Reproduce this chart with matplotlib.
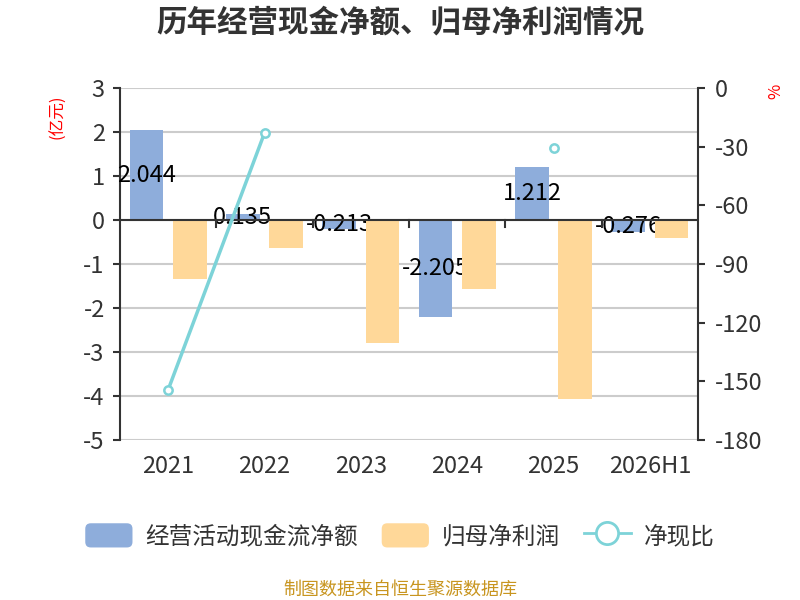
import matplotlib
matplotlib.use("Agg")
import matplotlib.pyplot as plt
import numpy as np
from matplotlib.patches import Patch, FancyBboxPatch
from matplotlib.lines import Line2D
from matplotlib.legend_handler import HandlerPatch

plt.rcParams['font.family'] = ['Noto Sans CJK SC', 'DejaVu Sans']
plt.rcParams['axes.unicode_minus'] = False

## datos ##
years = ["2021", "2022", "2023", "2024", "2025", "2026H1"]
cash_flow = [2.044, 0.135, -0.213, -2.205, 1.212, -0.276]
net_profit = [-1.35, -0.63, -2.80, -1.57, -4.07, -0.41]
ratio = [-154.3, -23.0, np.nan, np.nan, -30.5, np.nan]

labels_y1 = ["3", "2", "1", "0", "-1", "-2", "-3", "-4", "-5"]
ticks_y1 = [3, 2, 1, 0, -1, -2, -3, -4, -5]
ticks_y2 = [0, -30, -60, -90, -120, -150, -180]

c_blue = "#8eaddb"
c_orange = "#ffd899"
c_line = "#7dd3d8"
c_text = "#333333"
fs = 17


class RoundHandler(HandlerPatch):
	def create_artists(self, legend, orig_handle, xdescent, ydescent, width, height, fontsize, trans):
		p = FancyBboxPatch((-xdescent, -ydescent), width, height,
			boxstyle="round,pad=0,rounding_size=4",
			fc=orig_handle.get_facecolor(), ec="none", transform=trans)
		return [p]


fig = plt.figure(figsize=(8, 6), dpi=100)
ax1 = fig.add_axes([0.15, 0.2667, 0.7225, 0.5866])

x = np.arange(len(years))
w = 0.35
off = 0.225

ax1.bar(x - off, cash_flow, w, color=c_blue, zorder=2)
ax1.bar(x + off, net_profit, w, color=c_orange, zorder=4)

for xi, v in zip(x, cash_flow):
	ax1.text(xi - off, v / 2, f"{v:.3f}", ha="center", va="center", fontsize=fs, color="black", zorder=3)

ax1.set_xlim(-0.5, len(years) - 0.5)
ax1.set_ylim(-5, 3)
ax1.set_yticks(ticks_y1, labels_y1)
ax1.set_xticks(x, years)
ax1.grid(axis="y", color="#cccccc", lw=1.5, zorder=0)
ax1.set_axisbelow(True)

for s in ["top", "bottom", "right"]:
	ax1.spines[s].set_visible(False)
ax1.spines["left"].set_color(c_text)
ax1.spines["left"].set_linewidth(1.5)
ax1.tick_params(axis="y", direction="out", length=5, width=1.5, color=c_text, labelsize=fs, labelcolor=c_text, pad=6)
ax1.tick_params(axis="x", length=0, labelsize=fs, labelcolor=c_text, pad=11)

## eje x en cero con marcas entre categorias ##
ax1.axhline(0, color=c_text, lw=1.5, zorder=5)
for b in np.arange(0.5, len(years) - 1, 1.0):
	ax1.plot([b, b], [0, -0.15], color=c_text, lw=1.5, zorder=5, clip_on=False)

ax1.text(-0.108, 0.918, "(亿元)", transform=ax1.transAxes, rotation=90, color="red", fontsize=12, ha="center", va="center")

ax2 = ax1.twinx()
ax2.plot(x, ratio, color=c_line, lw=2.5, marker="o", markersize=6, mfc="white", mec=c_line, mew=1.8, zorder=6)
ax2.set_ylim(-180, 0)
ax2.set_yticks(ticks_y2, [str(t) for t in ticks_y2])
for s in ["top", "bottom", "left"]:
	ax2.spines[s].set_visible(False)
ax2.spines["right"].set_color(c_text)
ax2.spines["right"].set_linewidth(1.5)
ax2.tick_params(axis="y", direction="out", length=5, width=1.5, color=c_text, labelsize=fs, labelcolor=c_text, pad=7)
ax2.text(1.135, 0.99, "%", transform=ax2.transAxes, rotation=90, color="red", fontsize=12, ha="center", va="center")

fig.text(0.5, 0.962, "历年经营现金净额、归母净利润情况", ha="center", va="center", fontsize=22, fontweight="bold", color=c_text)

handles = [
	Patch(facecolor=c_blue, label="经营活动现金流净额"),
	Patch(facecolor=c_orange, label="归母净利润"),
	Line2D([], [], color=c_line, lw=2, marker="o", markersize=16, mfc="white", mec=c_line, mew=2, label="净现比"),
]
fig.legend(handles=handles, loc="center", bbox_to_anchor=(0.5, 0.107), ncol=3, frameon=False,
	fontsize=fs, handlelength=2.0, handleheight=1.2, handletextpad=0.55, columnspacing=1.0,
	labelcolor=c_text, handler_map={Patch: RoundHandler()})

fig.text(0.5, 0.017, "制图数据来自恒生聚源数据库", ha="center", va="center", fontsize=13, color="#c8951f")

plt.savefig("out.png", dpi=100)
